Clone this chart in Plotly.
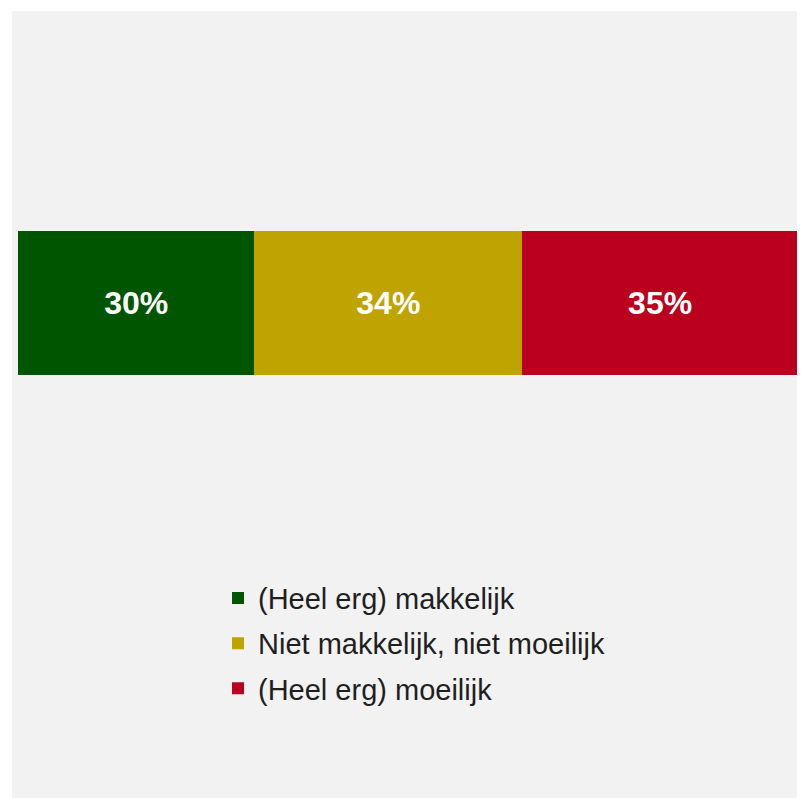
import plotly.graph_objects as go

categories = ["(Heel erg) makkelijk", "Niet makkelijk, niet moeilijk", "(Heel erg) moeilijk"]
values = [30, 34, 35]
colors = ["#005500", "#BFA300", "#BA001E"]

FONT = "Liberation Sans, Arial, sans-serif"
W, H = 797, 790
L, R, T, B = 10, 7, 223, 423
pw, ph = W - L - R, H - T - B

fig = go.Figure()
for i, (name, v, c) in enumerate(zip(categories, values, colors)):
    fig.add_trace(go.Bar(
        x=[v], y=[""], orientation="h", name=name,
        marker=dict(color=c, line=dict(width=0)),
        width=1,
        text=[f"<b>{v}%</b>"], textposition="inside", insidetextanchor="middle",
        textfont=dict(color="white", size=32, family=FONT),
        legendgroup=f"g{i}",
        hoverinfo="skip",
    ))

# grey panel (page background of the original)
fig.add_shape(type="rect", xref="paper", yref="paper", layer="below",
              x0=(4 - L) / pw, x1=(W - L) / pw,
              y0=(T + ph - H) / ph, y1=(T + ph - 3) / ph,
              fillcolor="#f2f2f2", line=dict(width=0))

fig.update_layout(
    barmode="stack",
    width=W, height=H,
    paper_bgcolor="white", plot_bgcolor="rgba(0,0,0,0)",
    margin=dict(l=L, r=R, t=T, b=B, pad=0),
    xaxis=dict(range=[0, sum(values)], visible=False, fixedrange=True),
    yaxis=dict(range=[-0.5, 0.5], visible=False, fixedrange=True),
    showlegend=True,
    legend=dict(orientation="v", x=(210 - L) / pw, xanchor="left",
                y=(T + ph - 564.6) / ph, yanchor="top",
                font=dict(size=29, color="#1f1f1f", family=FONT),
                tracegroupgap=4.5, traceorder="grouped", bgcolor="rgba(0,0,0,0)"),
    font=dict(family=FONT),
)
fig.write_html("out.html")
